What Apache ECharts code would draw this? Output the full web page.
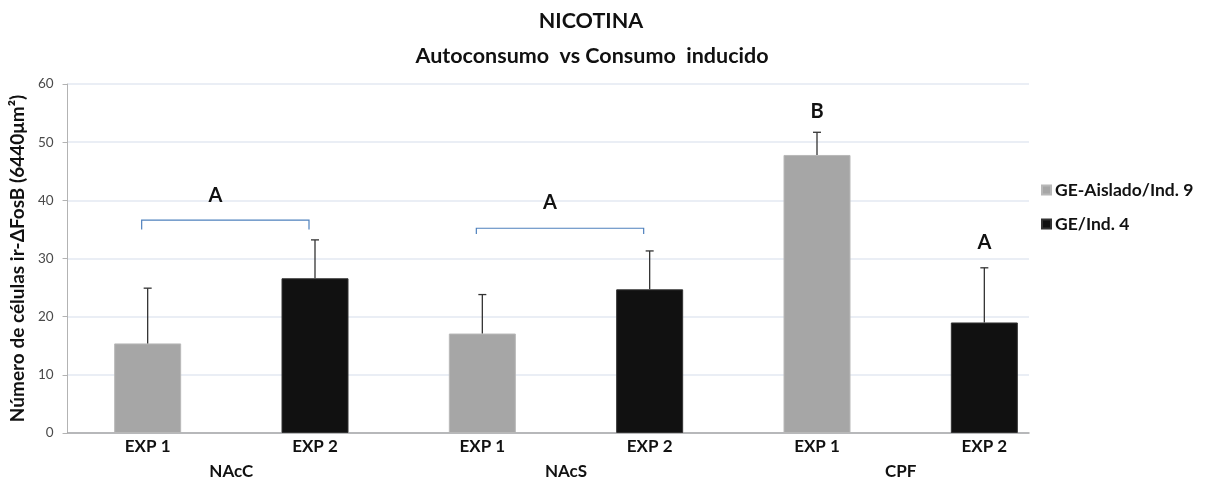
<!DOCTYPE html>
<html>
<head>
<meta charset="utf-8">
<script src="https://cdn.jsdelivr.net/npm/echarts@6/dist/echarts.min.js"></script>
<style>
html,body{margin:0;padding:0;background:#fff;}
#chart{width:1205px;height:483px;}
</style>
</head>
<body>
<div id="chart"></div>
<script>
// ---- data ----
const titleMain = 'NICOTINA';
const titleSub = 'Autoconsumo  vs Consumo  inducido';
const yAxisName = 'Número de células ir-ΔFosB (6440μm²)';
const categories = ['EXP 1', 'EXP 2', 'EXP 1', 'EXP 2', 'EXP 1', 'EXP 2'];
const regions = ['NAcC', 'NAcS', 'CPF'];
const seriesNames = ['GE-Aislado/Ind. 9', 'GE/Ind. 4'];
const grayValues = [15.4, '-', 17.1, '-', 47.8, '-'];
const blackValues = ['-', 26.6, '-', 24.7, '-', 19.0];
const errValues = [9.5, 6.6, 6.7, 6.6, 3.9, 9.4];
const yTicks = [0, 10, 20, 30, 40, 50, 60];
// significance letters: [fromIndex, toIndex, letter, letterValue]
const letterGroups = [[0, 1, 'A', 40.9], [2, 3, 'A', 39.7], [4, 4, 'B', 55.2], [5, 5, 'A', 32.8]];
// brackets: [fromIndex, toIndex, topValue, endValue]
const brackets = [[0, 1, 36.6, 35.0], [2, 3, 35.2, 34.2]];

const FONT = 'Lato';
const chart = echarts.init(document.getElementById('chart'));

const barVals = grayValues.map((g, i) => g === '-' ? blackValues[i] : g);
const errData = barVals.map((v, i) => [i, v, v + errValues[i]]);

const option = {
  backgroundColor: '#ffffff',
  animation: false,
  title: [
    { text: titleMain, left: 586, top: 5, textAlign: 'center',
      textStyle: { fontFamily: FONT, fontWeight: 'bold', fontSize: 21.5, color: '#111' } },
    { text: titleSub, left: 587, top: 40, textAlign: 'center',
      textStyle: { fontFamily: FONT, fontWeight: 'bold', fontSize: 21.5, color: '#111' } }
  ],
  legend: {
    data: seriesNames,
    orient: 'vertical',
    left: 1036,
    top: 176,
    itemWidth: 9,
    itemHeight: 9,
    itemGap: 16,
    icon: 'rect',
    textStyle: { fontFamily: FONT, fontWeight: 'bold', fontSize: 17.5, color: '#111', padding: [0, 0, 0, -1] }
  },
  grid: [
    { left: 63, right: 176, top: 84, bottom: 50 },
    { left: 64, right: 137, top: 84, bottom: 50 }
  ],
  xAxis: [
    { gridIndex: 0, type: 'category', data: categories, show: true,
      axisLine: { lineStyle: { color: '#a6a6a6', width: 1.5 } },
      axisTick: { show: false }, axisLabel: { show: false } },
    { gridIndex: 1, type: 'category', data: categories,
      axisLine: { show: false }, axisTick: { show: false },
      axisLabel: { fontFamily: FONT, fontWeight: 'bold', fontSize: 17, color: '#111', margin: 5 } },
    { gridIndex: 1, type: 'category', data: regions, position: 'bottom', offset: 26,
      axisLine: { show: false }, axisTick: { show: false },
      axisLabel: { fontFamily: FONT, fontWeight: 'bold', fontSize: 17, color: '#111', margin: 4 } }
  ],
  yAxis: [
    { gridIndex: 0, type: 'value', min: 0, max: 60, interval: 10,
      name: yAxisName, nameLocation: 'middle', nameGap: 37, nameRotate: 90,
      nameTextStyle: { fontFamily: FONT, fontWeight: 'bold', fontSize: 19, color: '#111' },
      axisLine: { show: true, lineStyle: { color: '#b3b3b3', width: 1 } },
      axisTick: { show: true, length: 5, lineStyle: { color: '#b3b3b3' } },
      axisLabel: { fontFamily: FONT, fontSize: 13.5, color: '#4a4a4a', margin: 14,
        formatter: v => yTicks.includes(v) ? String(v) : '' },
      splitLine: { lineStyle: { color: '#e3e9f2', width: 1.5 } } },
    { gridIndex: 1, type: 'value', min: 0, max: 60, interval: 10, show: false,
      splitLine: { show: false } }
  ],
  series: [
    { name: seriesNames[0], type: 'bar', xAxisIndex: 1, yAxisIndex: 1,
      data: grayValues, barWidth: 67, barGap: '-100%',
      itemStyle: { color: '#a6a6a6', borderColor: '#b8b8b8', borderWidth: 1 } },
    { name: seriesNames[1], type: 'bar', xAxisIndex: 1, yAxisIndex: 1,
      data: blackValues, barWidth: 67, barGap: '-100%',
      itemStyle: { color: '#111111', borderColor: '#333', borderWidth: 1 } },
    { name: 'err', type: 'custom', xAxisIndex: 1, yAxisIndex: 1, data: errData, z: 5,
      renderItem: (params, api) => {
        const lo = api.coord([api.value(0), api.value(1)]);
        const hi = api.coord([api.value(0), api.value(2)]);
        const st = { stroke: '#333', lineWidth: 1.3 };
        return { type: 'group', children: [
          { type: 'line', shape: { x1: lo[0], y1: lo[1], x2: hi[0], y2: hi[1] }, style: st },
          { type: 'line', shape: { x1: hi[0] - 4, y1: hi[1], x2: hi[0] + 4, y2: hi[1] }, style: st }
        ] };
      } },
    { name: 'brackets', type: 'custom', xAxisIndex: 1, yAxisIndex: 1, data: brackets, z: 5,
      renderItem: (params, api) => {
        const a = api.coord([api.value(0), api.value(2)]);
        const b = api.coord([api.value(1), api.value(2)]);
        const e = api.coord([api.value(0), api.value(3)]);
        const x1 = a[0] - 6, x2 = b[0] - 6;
        return { type: 'polyline',
          shape: { points: [[x1, e[1]], [x1, a[1]], [x2, a[1]], [x2, e[1]]] },
          style: { stroke: '#4f81bd', lineWidth: 1.2, fill: null } };
      } },
    { name: 'letters', type: 'custom', xAxisIndex: 1, yAxisIndex: 1, data: letterGroups, z: 6,
      renderItem: (params, api) => {
        const a = api.coord([api.value(0), api.value(3)]);
        const b = api.coord([api.value(1), api.value(3)]);
        const g = letterGroups[params.dataIndex];
        const x = (a[0] + b[0]) / 2 - (g[0] !== g[1] ? 16 : 0);
        return { type: 'text', x: x, y: a[1],
          style: { text: g[2], fontFamily: FONT, fontWeight: 'bold', fontSize: 20,
            fill: '#111', align: 'center', verticalAlign: 'middle' } };
      } }
  ]
};
chart.setOption(option);
</script>
</body>
</html>
